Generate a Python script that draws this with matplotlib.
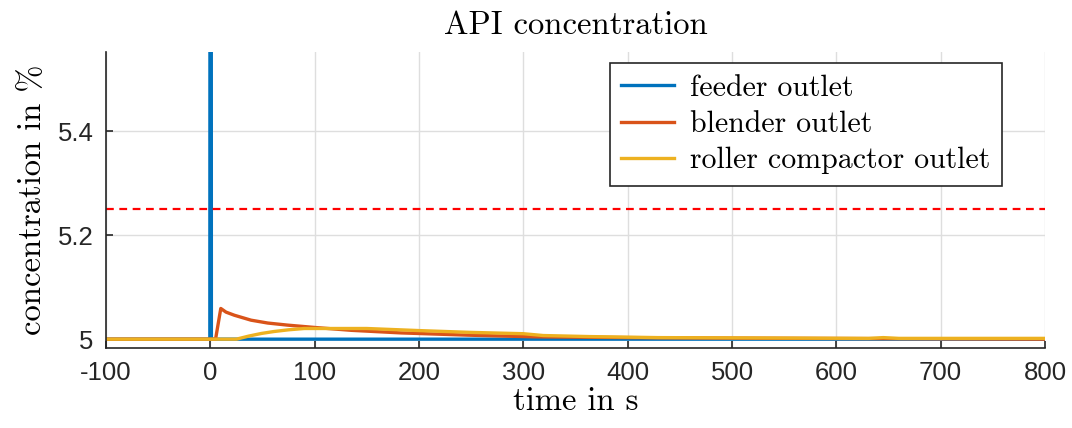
import matplotlib
matplotlib.use("Agg")
import matplotlib.pyplot as plt

# feeder outlet: spike at t=0
feeder_t = [-100, -0.5, 0, 0.5, 1.0, 800]
feeder_c = [5.0, 5.0, 8.0, 8.0, 5.0, 5.0]

# blender outlet
blender_t = [-100, 5, 10, 15, 23, 39, 55, 74, 100, 135, 183, 247, 310,
             400, 500, 650, 800]
blender_c = [5.0, 5.0, 5.059, 5.052, 5.046, 5.0365, 5.031, 5.027, 5.0225,
             5.017, 5.012, 5.0077, 5.0045, 5.003, 5.002, 5.001, 5.0]

# roller compactor outlet
roller_t = [-100, 25, 37, 49, 61, 75, 90, 150, 200, 250, 300, 319, 363,
            429, 631, 645, 660, 800]
roller_c = [5.0, 5.0, 5.006, 5.011, 5.0147, 5.018, 5.0205, 5.0205, 5.0165,
            5.013, 5.0105, 5.007, 5.005, 5.003, 5.0015, 5.003, 5.0015, 5.0015]

limit = 5.25
labels = ["feeder outlet", "blender outlet", "roller compactor outlet"]
colors = ["#0072BD", "#D95319", "#EDB120"]

serif = "cmr10"
tickfont = "Liberation Sans"
dark = "#262626"

fig = plt.figure(figsize=(10.72, 4.28), dpi=100)
ax = fig.add_axes([0.0989, 0.1869, 0.8759, 0.6916])

ax.plot(feeder_t, feeder_c, color=colors[0], lw=2.4, label=labels[0])
ax.plot(blender_t, blender_c, color=colors[1], lw=2.4, label=labels[1])
ax.plot(roller_t, roller_c, color=colors[2], lw=2.4, label=labels[2])
ax.axhline(limit, color="red", lw=1.6, ls=(0, (3.5, 2.5)))

ax.set_xlim(-100, 800)
ax.set_ylim(4.983, 5.552)
ax.set_xticks(range(-100, 801, 100))
ax.set_yticks([5.0, 5.2, 5.4])
ax.set_yticklabels(["5", "5.2", "5.4"])
ax.set_xticklabels([str(v) for v in range(-100, 801, 100)])

ax.grid(True, color="#dedede", lw=1)
ax.set_axisbelow(True)
for s in ["top", "right"]:
    ax.spines[s].set_visible(False)
for s in ["left", "bottom"]:
    ax.spines[s].set_color(dark)
    ax.spines[s].set_linewidth(1.2)
ax.tick_params(direction="in", length=5, width=1.2, color=dark,
               labelcolor=dark, labelsize=18.5, pad=9)
for lab in ax.get_xticklabels() + ax.get_yticklabels():
    lab.set_fontfamily(tickfont)

ax.set_title("API concentration", fontfamily=serif, fontsize=23.5, pad=13)
ax.set_xlabel("time in s", fontfamily=serif, fontsize=23.5, labelpad=2)
ax.set_ylabel("concentration in %", fontfamily=serif, fontsize=23.5, labelpad=8)

leg = ax.legend(loc="upper right", bbox_to_anchor=(0.954, 0.963),
                borderaxespad=0, fancybox=False, framealpha=1,
                edgecolor=dark, prop={"family": serif, "size": 21.5},
                handlelength=1.77, handletextpad=0.55, labelspacing=0.3,
                borderpad=0.38)
leg.get_frame().set_linewidth(1.2)

fig.savefig("out.png", dpi=100)
